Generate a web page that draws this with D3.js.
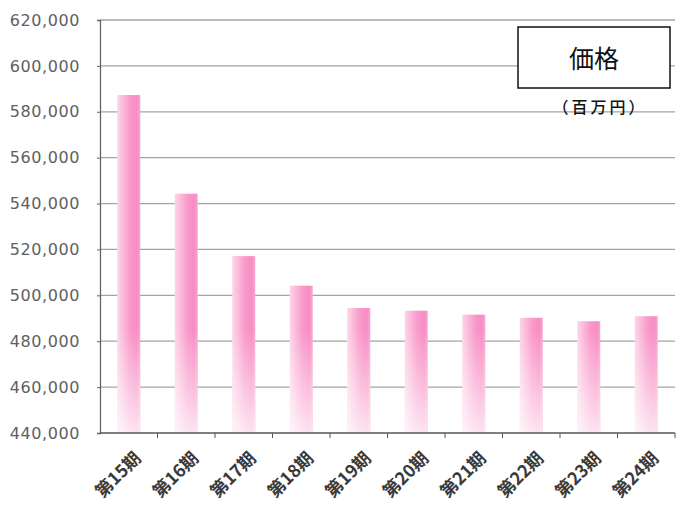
<!DOCTYPE html>
<html>
<head>
<meta charset="utf-8">
<script src="https://cdn.jsdelivr.net/npm/d3@7/dist/d3.min.js"></script>
<style>
  html, body { margin: 0; padding: 0; background: #fff; }
  svg { display: block; }
</style>
</head>
<body>
<svg id="chart" width="676" height="506"></svg>
<script>
// Price per period (millions of yen)
const periods = ["第15期", "第16期", "第17期", "第18期", "第19期", "第20期", "第21期", "第22期", "第23期", "第24期"];
const prices = [587300, 544300, 517100, 504200, 494500, 493300, 491600, 490200, 488700, 490900];
const yTicks = [440000, 460000, 480000, 500000, 520000, 540000, 560000, 580000, 600000, 620000];
const legendTitle = "価格";
const unitLabel = "（百万円）";

const svg = d3.select("#chart");
const plotLeft = 100, plotRight = 675, plotTop = 20, plotBottom = 433;

const x = d3.scaleBand().domain(periods).range([plotLeft, plotRight]).paddingInner(0.6).paddingOuter(0.3);
const y = d3.scaleLinear().domain([440000, 620000]).range([plotBottom, plotTop]);

const defs = svg.append("defs");
const hGrad = defs.append("linearGradient").attr("id", "barH").attr("x1", 0).attr("x2", 1).attr("y1", 0).attr("y2", 0);
hGrad.append("stop").attr("offset", 0).attr("stop-color", "#fdd6e8");
hGrad.append("stop").attr("offset", 0.55).attr("stop-color", "#f99acb");
hGrad.append("stop").attr("offset", 0.85).attr("stop-color", "#f78dc3");
hGrad.append("stop").attr("offset", 1).attr("stop-color", "#f9a6cf");

const vGrad = defs.append("linearGradient").attr("id", "barFade")
  .attr("gradientUnits", "userSpaceOnUse")
  .attr("x1", 0).attr("x2", 0).attr("y1", 330).attr("y2", plotBottom);
vGrad.append("stop").attr("offset", 0).attr("stop-color", "#fff").attr("stop-opacity", 0);
vGrad.append("stop").attr("offset", 1).attr("stop-color", "#fff").attr("stop-opacity", 0.75);

// horizontal gridlines
svg.append("g")
  .selectAll("line")
  .data(yTicks.filter(d => d > 440000))
  .join("line")
  .attr("x1", plotLeft).attr("x2", plotRight)
  .attr("y1", d => y(d)).attr("y2", d => y(d))
  .attr("stroke", "#a4a4a4").attr("stroke-width", 1.3);

// bars
const bars = svg.append("g");
bars.selectAll("rect.bar")
  .data(prices)
  .join("rect")
  .attr("class", "bar")
  .attr("x", (d, i) => x(periods[i]))
  .attr("width", x.bandwidth())
  .attr("y", d => y(d))
  .attr("height", d => plotBottom - y(d))
  .attr("fill", "url(#barH)");
bars.selectAll("rect.fade")
  .data(prices)
  .join("rect")
  .attr("class", "fade")
  .attr("x", (d, i) => x(periods[i]))
  .attr("width", x.bandwidth())
  .attr("y", d => y(d))
  .attr("height", d => plotBottom - y(d))
  .attr("fill", "url(#barFade)");

// y axis
const yAxis = svg.append("g")
  .attr("transform", `translate(${plotLeft},0)`)
  .call(d3.axisLeft(y).tickValues(yTicks).tickSize(3).tickPadding(17).tickFormat(d3.format(",")));
yAxis.select(".domain").attr("stroke", "#666").attr("stroke-width", 1.3);
yAxis.selectAll(".tick line").attr("stroke", "#666");
yAxis.selectAll("text")
  .attr("font-family", "DejaVu Sans, Verdana, sans-serif")
  .attr("font-size", 16)
  .attr("letter-spacing", 0.6)
  .attr("fill", "#606060");

// x axis with ticks at category boundaries
const boundaries = d3.range(1, periods.length + 1).map(i => plotLeft + i * (plotRight - plotLeft) / periods.length);
const xg = svg.append("g");
xg.append("line")
  .attr("x1", plotLeft).attr("x2", plotRight).attr("y1", plotBottom).attr("y2", plotBottom)
  .attr("stroke", "#555").attr("stroke-width", 1.5);
xg.selectAll("line.tk")
  .data(boundaries)
  .join("line")
  .attr("class", "tk")
  .attr("x1", d => d).attr("x2", d => d)
  .attr("y1", plotBottom).attr("y2", plotBottom + 5)
  .attr("stroke", "#555");
xg.selectAll("text")
  .data(periods)
  .join("text")
  .attr("transform", d => `translate(${x(d) + x.bandwidth() / 2 + 9},${plotBottom + 22}) rotate(-45)`)
  .attr("text-anchor", "end")
  .attr("dy", "0.35em")
  .attr("font-family", "Noto Sans CJK JP, sans-serif")
  .attr("font-size", 17.5)
  .attr("font-weight", "bold")
  .attr("fill", "#3a3a3a")
  .text(d => d);

// legend box
const lg = svg.append("g");
lg.append("rect")
  .attr("x", 518).attr("y", 27).attr("width", 152).attr("height", 61)
  .attr("fill", "#fff").attr("stroke", "#111").attr("stroke-width", 1.5);
lg.append("text")
  .attr("x", 594).attr("y", 68)
  .attr("text-anchor", "middle")
  .attr("font-family", "Noto Sans CJK JP, sans-serif")
  .attr("font-size", 25)
  .attr("fill", "#111")
  .text(legendTitle);
lg.append("text")
  .attr("x", 600).attr("y", 113)
  .attr("text-anchor", "middle")
  .attr("font-family", "Noto Sans CJK JP, sans-serif")
  .attr("font-size", 16)
  .attr("font-weight", 500)
  .attr("letter-spacing", 3)
  .attr("fill", "#111")
  .text(unitLabel);
</script>
</body>
</html>
